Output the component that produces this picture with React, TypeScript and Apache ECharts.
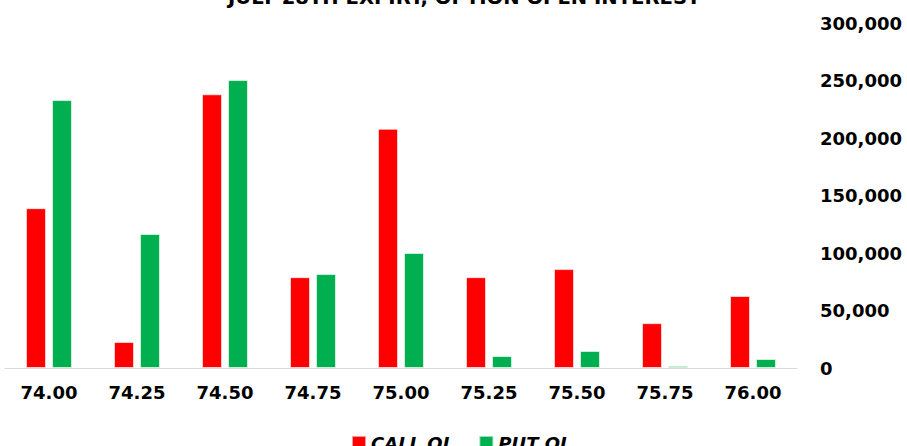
import React, { useEffect, useRef } from "react";
import * as echarts from "echarts";

const strikes = ["74.00", "74.25", "74.50", "74.75", "75.00", "75.25", "75.50", "75.75", "76.00"];
const callOI = [139000, 22600, 238000, 79000, 208000, 79000, 86000, 39000, 62600];
const putOI = [233000, 116500, 250400, 81700, 100000, 10400, 14800, 1800, 7800];
const yTicks = [0, 50000, 100000, 150000, 200000, 250000, 300000];
const titleText = "JULY 28TH EXPIRY, OPTION OPEN INTEREST";

export default function App() {
  const ref = useRef<HTMLDivElement>(null);
  useEffect(() => {
    if (!ref.current) return;
    const chart = echarts.init(ref.current, null, { renderer: "svg" });
    chart.setOption({
      animation: false,
      title: {
        text: titleText,
        left: 223,
        top: -18,
        textStyle: { fontFamily: "DejaVu Sans", fontWeight: "bold", fontSize: 19.6, color: "#000" },
      },
      legend: {
        bottom: -11,
        left: 346,
        itemWidth: 14,
        itemHeight: 14,
        itemGap: 29,
        icon: "rect",
        textStyle: { fontFamily: "DejaVu Sans", fontWeight: "bold", fontStyle: "italic", fontSize: 18, color: "#000" },
        data: ["CALL OI", "PUT OI"],
      },
      grid: { left: 5, right: 110, top: 23, bottom: 78, containLabel: false },
      xAxis: {
        type: "category",
        data: strikes,
        axisLine: { show: true, lineStyle: { color: "#d9d9d9", width: 1 } },
        axisTick: { show: false },
        axisLabel: { margin: 15, fontFamily: "DejaVu Sans", fontWeight: "bold", fontSize: 18, color: "#000" },
      },
      yAxis: {
        type: "value",
        position: "right",
        min: yTicks[0],
        max: yTicks[yTicks.length - 1],
        interval: 50000,
        splitLine: { show: false },
        axisLine: { show: false },
        axisTick: { show: false },
        axisLabel: {
          margin: 23,
          align: "left",
          fontFamily: "DejaVu Sans",
          fontWeight: "bold",
          fontSize: 18,
          color: "#000",
          formatter: (v: number) => v.toLocaleString("en-US"),
        },
      },
      series: [
        {
          name: "CALL OI",
          type: "bar",
          data: callOI,
          barWidth: 20,
          barGap: "30%",
          itemStyle: { color: "#FF0000", borderColor: "rgba(255,255,255,0.6)", borderWidth: 1 },
        },
        {
          name: "PUT OI",
          type: "bar",
          data: putOI,
          barWidth: 20,
          itemStyle: { color: "#00B050", borderColor: "rgba(255,255,255,0.6)", borderWidth: 1 },
        },
      ],
    });
    return () => chart.dispose();
  }, []);
  return <div ref={ref} style={{ width: 907, height: 446, position: "absolute", left: 0, top: 0 }} />;
}
